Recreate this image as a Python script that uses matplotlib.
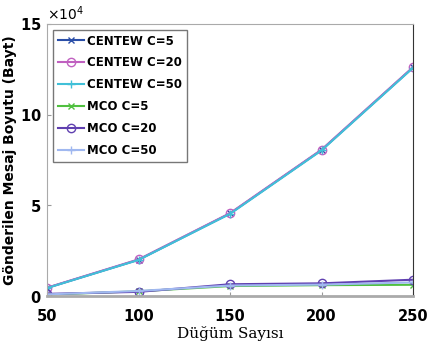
import numpy as np
import matplotlib.pyplot as plt
from matplotlib.ticker import ScalarFormatter

# node counts
nodes = [50, 100, 150, 200, 250]

# sent message size (bytes)
centew_c5 = [4500, 20000, 45500, 80500, 126000]
centew_c20 = [4600, 20200, 45700, 80700, 126200]
centew_c50 = [4400, 19900, 45300, 80300, 125800]
mco_c5 = [800, 2600, 5500, 6000, 6200]
mco_c20 = [1200, 2300, 6500, 7000, 9000]
mco_c50 = [900, 2800, 5800, 6300, 7500]

fig = plt.figure(figsize=(4.28, 3.52), dpi=100)
ax = fig.add_axes([0.110, 0.159, 0.855, 0.773])

ax.plot(nodes, centew_c5, color="#2b4fa8", marker="x", ms=5, lw=1.5, label="CENTEW C=5")
ax.plot(nodes, centew_c20, color="#c060c0", marker="o", mfc="none", ms=6, lw=1.5, label="CENTEW C=20")
ax.plot(nodes, centew_c50, color="#40c0d8", marker="+", ms=6, lw=1.5, label="CENTEW C=50")
ax.plot(nodes, mco_c5, color="#50c040", marker="x", ms=5, lw=1.5, label="MCO C=5")
ax.plot(nodes, mco_c20, color="#6040b0", marker="o", mfc="none", ms=6, lw=1.5, label="MCO C=20")
ax.plot(nodes, mco_c50, color="#a0b8f0", marker="+", ms=6, lw=1.5, label="MCO C=50")

ax.set_xlim(50, 250)
ax.set_ylim(0, 150000)
ax.set_xticks([50, 100, 150, 200, 250])
ax.set_yticks([0, 50000, 100000, 150000])

fmt = ScalarFormatter(useMathText=True)
fmt.set_powerlimits((4, 4))
ax.yaxis.set_major_formatter(fmt)
ax.yaxis.get_offset_text().set_fontsize(10)

ax.tick_params(direction="in", length=3, labelsize=10.5, color="#999999")
ax.tick_params(axis="x", pad=9)
ax.tick_params(axis="y", pad=4)
for lab in ax.get_xticklabels() + ax.get_yticklabels():
    lab.set_fontweight("bold")
for s in ax.spines.values():
    s.set_color("#aaaaaa")
ax.spines["right"].set_color("#333333")
ax.spines["bottom"].set_linewidth(2)

ax.set_xlabel("Düğüm Sayısı", family="DejaVu Serif", fontsize=11, labelpad=2)
ax.set_ylabel("Gönderilen Mesaj Boyutu (Bayt)", fontsize=10, fontweight="bold", labelpad=2)

leg = ax.legend(loc="upper left", prop={"weight": "bold", "size": 8.5},
                fancybox=False, edgecolor="#555555", handlelength=2.2,
                borderpad=0.4, labelspacing=0.75, handletextpad=0.3,
                bbox_to_anchor=(0.0, 1.0))

plt.savefig("out.png", dpi=100)
